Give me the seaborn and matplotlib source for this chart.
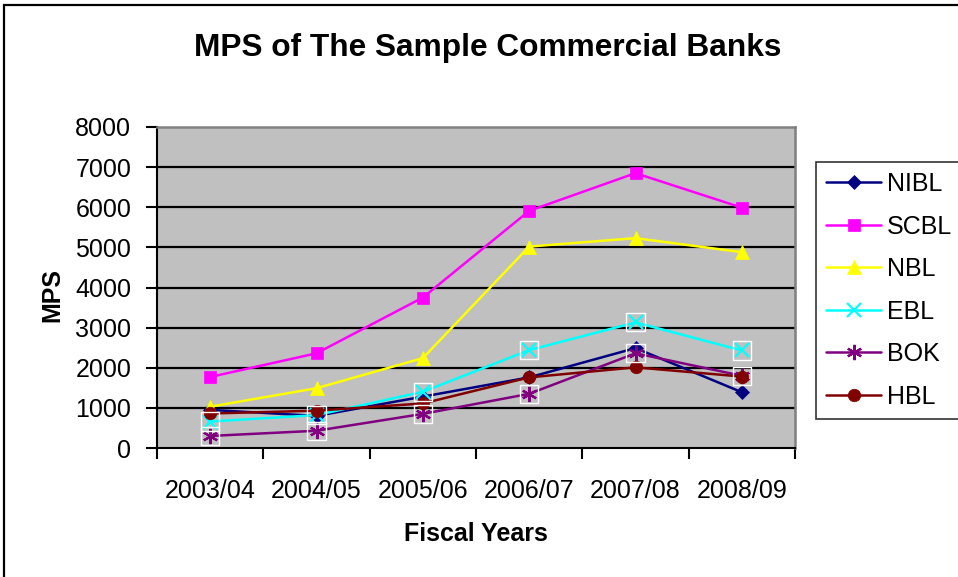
import matplotlib
matplotlib.use("Agg")
import matplotlib.pyplot as plt
import matplotlib.patches as mpatches
import seaborn as sns
import pandas as pd

years = ["2003/04", "2004/05", "2005/06", "2006/07", "2007/08", "2008/09"]
banks = ["NIBL", "SCBL", "NBL", "EBL", "BOK", "HBL"]
nibl = [950, 800, 1280, 1760, 2490, 1390]
scbl = [1770, 2360, 3750, 5910, 6850, 5990]
nbl = [1030, 1490, 2240, 5020, 5230, 4880]
ebl = [660, 820, 1400, 2440, 3130, 2430]
bok = [300, 430, 850, 1350, 2360, 1800]
hbl = [860, 930, 1110, 1760, 2010, 1780]
y_ticks = [0, 1000, 2000, 3000, 4000, 5000, 6000, 7000, 8000]

series = dict(zip(banks, [nibl, scbl, nbl, ebl, bok, hbl]))
rows = []
for b in banks:
    for i, (yr, v) in enumerate(zip(years, series[b])):
        rows.append({"bank": b, "pos": i, "year": yr, "MPS": v})
df = pd.DataFrame(rows)

colors = {"NIBL": "#000080", "SCBL": "#FF00FF", "NBL": "#FFFF00",
          "EBL": "#00FFFF", "BOK": "#800080", "HBL": "#800000"}
markers = {"NIBL": "D", "SCBL": "s", "NBL": "^", "EBL": "x",
           "BOK": (6, 2, 0), "HBL": "o"}
msizes = {"NIBL": 7, "SCBL": 8, "NBL": 10, "EBL": 10, "BOK": 11, "HBL": 9}

sns.set_theme(style="white")
plt.rcParams["font.family"] = ["Liberation Sans", "DejaVu Sans"]
plt.rcParams.update({"text.color": "black", "axes.labelcolor": "black",
                     "xtick.color": "black", "ytick.color": "black"})

fig = plt.figure(figsize=(9.58, 5.77), dpi=100)
ax = fig.add_axes([157/958, 1-448/577, (795-157)/958, (448-127)/577])
ax.set_facecolor("#C0C0C0")

sns.lineplot(data=df, x="pos", y="MPS", hue="bank", hue_order=banks,
             palette=colors, linewidth=1.8, legend=False, ax=ax, zorder=3)

for line, b in zip(ax.lines, banks):
    line.set_label(b)
    line.set_marker(markers[b])
    line.set_markersize(msizes[b])
    line.set_markeredgecolor(colors[b])
    line.set_markerfacecolor(colors[b])
    line.set_markeredgewidth(1.6 if b in ("EBL", "BOK") else 0.5)

# white square frames around EBL and BOK markers (as in reference)
for b in ["EBL", "BOK"]:
    sub = df[df["bank"] == b]
    ax.scatter(sub["pos"], sub["MPS"], marker="s", s=170, facecolors="none",
               edgecolors="white", linewidths=1.0, zorder=4)

ax.set_xlim(-0.5, 5.5)
ax.set_ylim(0, 8000)
ax.set_yticks(y_ticks)
ax.set_yticklabels([str(t) for t in y_ticks])
ax.set_xticks([i - 0.5 for i in range(len(years) + 1)])
ax.set_xticklabels([])
ax.set_xticks(list(range(len(years))), minor=True)
ax.set_xticklabels(years, minor=True)
ax.tick_params(axis="x", which="major", length=8, width=1.5, color="black",
               direction="out", bottom=True)
ax.tick_params(axis="x", which="minor", length=0, pad=22, labelsize=18,
               bottom=True)
ax.tick_params(axis="y", length=8, width=1.5, color="black", direction="out",
               left=True, pad=10.5, labelsize=18)
ax.set_xlabel("")
ax.set_ylabel("")
for yv in y_ticks[1:-1]:
    ax.axhline(yv, color="black", linewidth=1.6, zorder=1)

for s in ["left", "bottom"]:
    ax.spines[s].set_color("black")
    ax.spines[s].set_linewidth(1.5)
for s in ["top", "right"]:
    ax.spines[s].set_color("#808080")
    ax.spines[s].set_linewidth(1.8)

leg = ax.legend(handles=ax.lines[:6], labels=banks, loc="upper left",
                bbox_to_anchor=(816/958, 1-162/577), bbox_transform=fig.transFigure,
                borderaxespad=0, frameon=True, fancybox=False, shadow=False,
                fontsize=18, handlelength=2.2, handletextpad=0.25,
                labelspacing=0.74, borderpad=0.4)
leg.get_frame().set_edgecolor("black")
leg.get_frame().set_linewidth(1.2)
leg.get_frame().set_facecolor("white")

fig.text(487.5/958, 1-48/577, "MPS of The Sample Commercial Banks",
         ha="center", va="center", fontsize=22.8, fontweight="bold")
fig.text(476/958, 1-534/577, "Fiscal Years", ha="center", va="center",
         fontsize=18, fontweight="bold")
fig.text(52/958, 1-295/577, "MPS", ha="center", va="center", rotation=90,
         fontsize=18, fontweight="bold")

border = mpatches.Rectangle((4/958, -0.05), 1.2, (577-5)/577 + 0.05,
                            transform=fig.transFigure, fill=False,
                            edgecolor="black", linewidth=1.6, clip_on=False)
fig.patches.append(border)

fig.savefig("out.png", dpi=100)
